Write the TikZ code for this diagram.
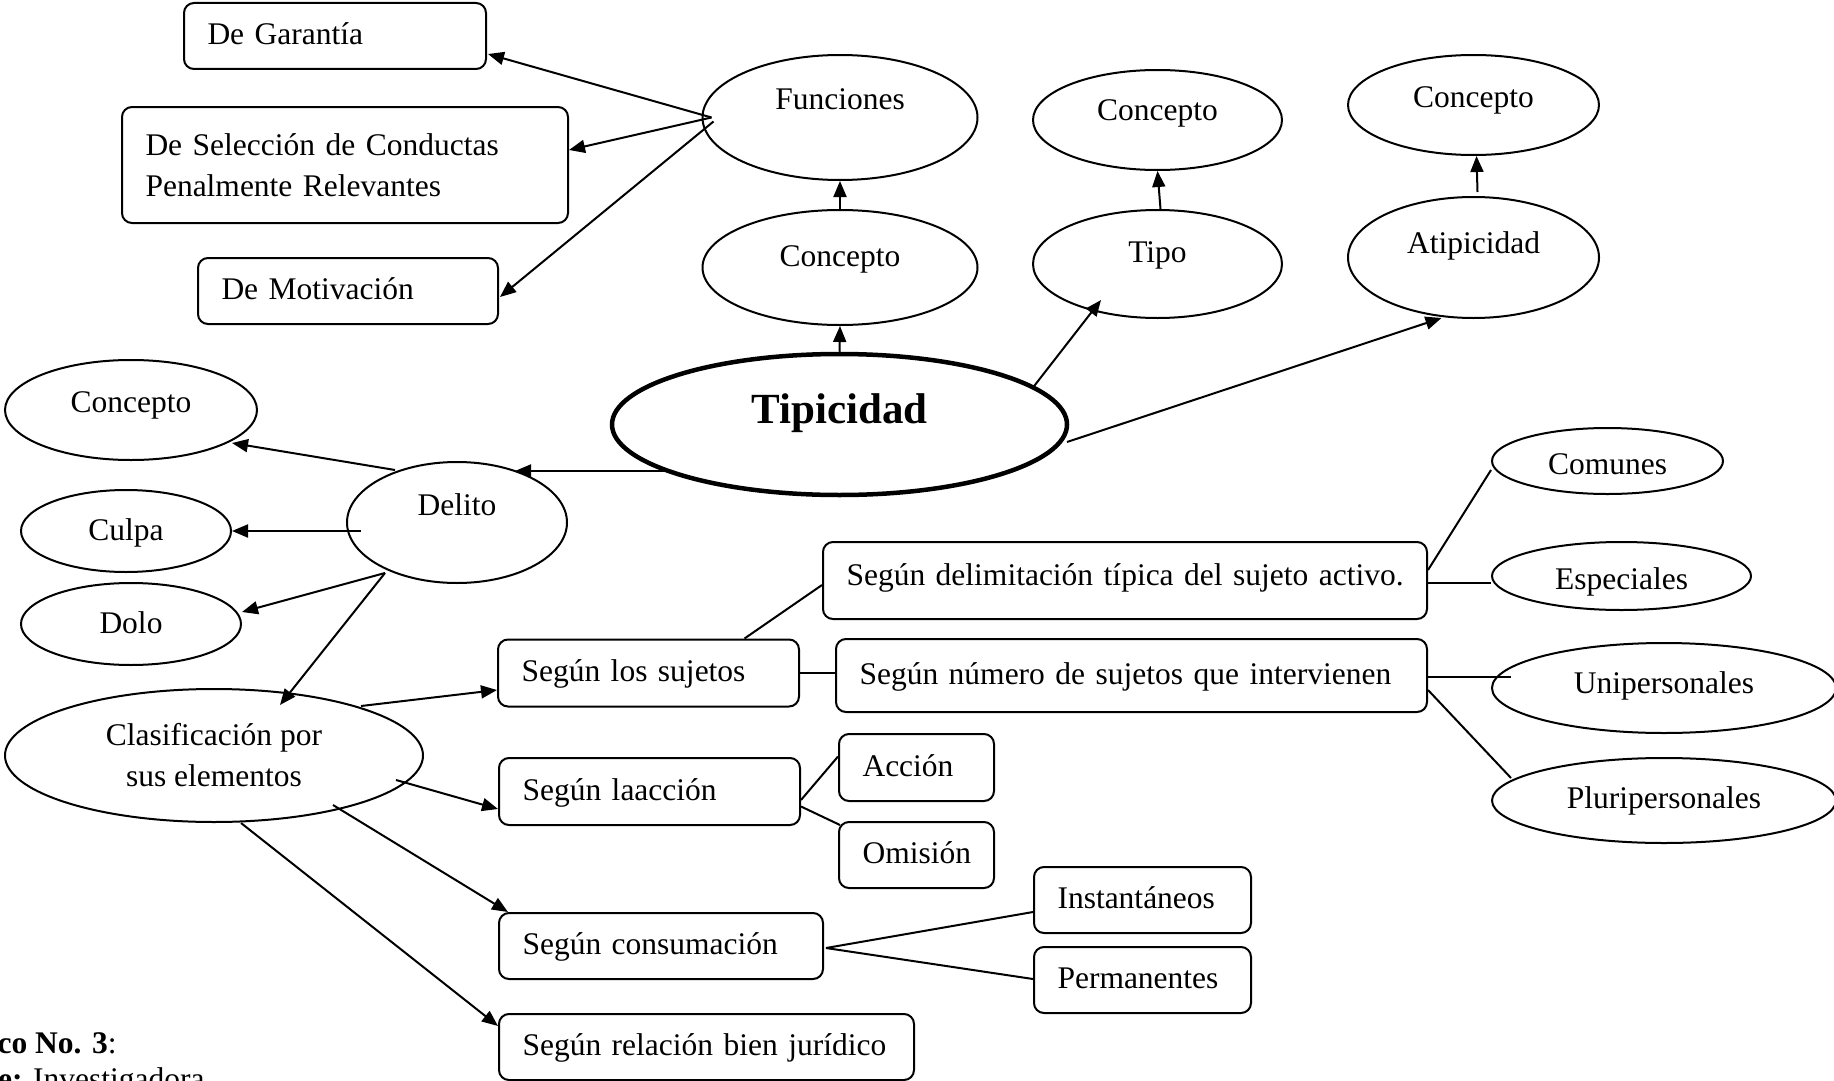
\documentclass[tikz,border=0pt]{standalone}
\usepackage{fontspec}
\setmainfont{Liberation Serif}
\usetikzlibrary{shapes.geometric,arrows.meta,calc}
\begin{document}
\begin{tikzpicture}[x=1pt,y=-1pt,
  every node/.style={font=\fontsize{31.5}{41}\selectfont},
  ell/.style={draw, ellipse, line width=2pt, inner sep=0pt, align=center},
  rboxbase/.style={draw, line width=2pt, rounded corners=10pt, align=left, inner xsep=23.5pt, inner ysep=0pt},
  rbox/.style={rboxbase, text height=22pt, text depth=5pt},
  arr/.style={line width=2pt, -{Triangle[length=16pt,width=13pt]}},
  ln/.style={line width=2pt}]
\fill[white] (0,0) rectangle (1834,1081);
\useasboundingbox (0,0) rectangle (1834,1081);

% rectangles
\node[rbox, text width=255pt, minimum height=66pt] (gar) at (335,36) {De Garantía};
\node[rboxbase, text width=399pt, minimum height=116pt] (sel) at (345,165) {De Selección de Conductas\\Penalmente Relevantes};
\node[rbox, text width=253pt, minimum height=66pt] (mot) at (348,291) {De Motivación};
\node[rbox, text width=557pt, minimum height=77pt, text depth=13pt] (deli) at (1125,580.5) {\mbox{Según delimitación típica del sujeto activo.}};
\node[rbox, text width=254pt, minimum height=67pt] (suj) at (648.5,673) {Según los sujetos};
\node[rbox, text width=544pt, minimum height=73pt] (num) at (1131.5,675.5) {\mbox{Según número de sujetos que intervienen}};
\node[rbox, text width=254pt, minimum height=67pt] (acc) at (649.5,791.5) {Según laacción};
\node[rbox, text width=108pt, minimum height=67pt] (accion) at (916.5,767.5) {Acción};
\node[rbox, text width=108pt, minimum height=66pt] (omi) at (916.5,855) {Omisión};
\node[rbox, text width=170pt, minimum height=66pt] (ins) at (1142.5,900) {Instantáneos};
\node[rbox, text width=170pt, minimum height=66pt] (per) at (1142.5,980) {Permanentes};
\node[rbox, text width=277pt, minimum height=66pt] (con) at (661,946) {Según consumación};
\node[rbox, text width=368pt, minimum height=66pt] (rel) at (706.5,1047) {Según relación bien jurídico};

% ellipses
\node[ell, minimum width=275pt, minimum height=125pt, text height=22pt, text depth=37pt] (fun) at (840,117.5) {Funciones};
\node[ell, minimum width=275pt, minimum height=115pt, text height=22pt, text depth=23.6pt] (c1) at (840,267.5) {Concepto};
\node[ell, minimum width=249pt, minimum height=100pt, text height=22pt, text depth=22pt] (c2) at (1157.5,120) {Concepto};
\node[ell, minimum width=249pt, minimum height=108pt, text height=22pt, text depth=24.6pt] (tipo) at (1157.5,264) {Tipo};
\node[ell, minimum width=251pt, minimum height=100pt, text height=22pt, text depth=18pt] (c3) at (1473.5,105) {Concepto};
\node[ell, minimum width=251pt, minimum height=121pt, text height=22pt, text depth=31pt] (ati) at (1473.5,257.5) {Atipicidad};
\node[ell, line width=4.5pt, minimum width=455pt, minimum height=141pt, font=\fontsize{43}{50}\selectfont\bfseries, text height=29pt, text depth=32pt] (tip) at (839.5,424.5) {Tipicidad};
\node[ell, minimum width=252pt, minimum height=100pt, text height=22pt, text depth=18pt] (c4) at (131,410) {Concepto};
\node[ell, minimum width=220pt, minimum height=121pt, text height=22pt, text depth=35.6pt] (del) at (457,522.5) {Delito};
\node[ell, minimum width=210pt, minimum height=82pt, text height=22pt, text depth=4pt] (culpa) at (126,531) {Culpa};
\node[ell, minimum width=220pt, minimum height=82pt, text height=22pt, text depth=4pt] (dolo) at (131,624) {Dolo};
\node[ell, minimum width=418pt, minimum height=133pt] (clas) at (214,755.5) {Clasificación por\\sus elementos};
\node[ell, minimum width=231pt, minimum height=66pt, text height=26pt, text depth=0pt] (com) at (1607.5,461) {Comunes};
\node[ell, minimum width=259pt, minimum height=68pt, text height=26pt, text depth=0pt] (esp) at (1621.5,576) {Especiales};
\node[ell, minimum width=344pt, minimum height=90pt, text height=22pt, text depth=12pt] (uni) at (1664,688) {Unipersonales};
\node[ell, minimum width=344pt, minimum height=85pt, text height=22pt, text depth=7pt] (plu) at (1664,800.5) {Pluripersonales};

% caption
\node[anchor=base west, inner sep=0pt] (cap1) at (35,1053) {\llap{\textbf{Gráfico }}\textbf{No. 3}:};
\node[anchor=base west, inner sep=0pt] (cap2) at (33,1089) {\llap{\textbf{Fuente:} }Investigadora};

% arrows
\coordinate (fj) at ($(fun.west)+(10,0)$);
\draw[arr] (fj) -- ($(gar.east)+(1,18)$);
\draw[arr] (fj) -- ($(sel.east)+(0,-15)$);
\draw[arr] ($(fun.west)+(12,4)$) -- ($(mot.east)+(1,6)$);
\draw[arr] (c1.north) -- (fun.south);
\draw[arr] (tip.north) -- (c1.south);
\draw[arr] ($(tipo.north)+(3,0)$) -- (c2.south);
\draw[arr] ($(ati.north)+(4,-4)$) -- ($(c3.south)+(3,0)$);
\draw[arr] ($(tip.center)+(193.5,-37)$) -- ($(tipo.center)+(-56.5,36)$);
\draw[arr] ($(tip.center)+(227.5,17.5)$) -- ($(ati.south)+(-32,-1)$);
\draw[arr] ($(tip.center)+(-172,46.5)$) -- ($(del.center)+(58,-51.5)$);
\draw[arr] ($(del.center)+(-62,-52.5)$) -- ($(c4.center)+(101,33)$);
\draw[arr] ($(del.west)+(15,8.5)$) -- (culpa.east);
\coordinate (dj) at ($(del.center)+(-72,50.5)$);
\draw[arr] (dj) -- ($(dolo.east)+(0,-12)$);
\draw[arr] (dj) -- ($(clas.center)+(66,-50.5)$);
\draw[arr] ($(clas.center)+(147,-49.5)$) -- ($(suj.west)+(0,17)$);
\draw[arr] ($(clas.center)+(182,24.5)$) -- ($(acc.west)+(0,17.5)$);
\draw[arr] ($(clas.center)+(119,49.5)$) -- ($(con.north west)+(10,0)$);
\draw[arr] ($(clas.south)+(27,0)$) -- ($(rel.west)+(0,-21)$);

% plain lines
\draw[ln] ($(acc.east)+(0,8.5)$) -- ($(accion.west)+(0,-11)$);
\draw[ln] ($(acc.east)+(0,15)$) -- ($(omi.north west)+(2,4)$);
\coordinate (cj) at ($(con.east)+(2,2)$);
\draw[ln] (cj) -- ($(ins.west)+(0,12)$);
\draw[ln] (cj) -- ($(per.west)+(0,-1)$);
\draw[ln] ($(suj.north)+(96,0)$) -- ($(deli.west)+(0,4.5)$);
\draw[ln] (suj.east) -- (suj.east -| num.west);
\draw[ln] ($(deli.east)+(0,-10.5)$) -- ($(com.west)+(0,9)$);
\coordinate (dq) at ($(deli.east)+(0,2.5)$);
\draw[ln] (dq) -- (dq -| esp.west);
\draw[ln] ($(num.east)+(0,1.5)$) -- ($(uni.west)+(20,-11)$);
\draw[ln] ($(num.east)+(0,14.5)$) -- ($(plu.center)+(-153,-22.5)$);
\end{tikzpicture}
\end{document}
